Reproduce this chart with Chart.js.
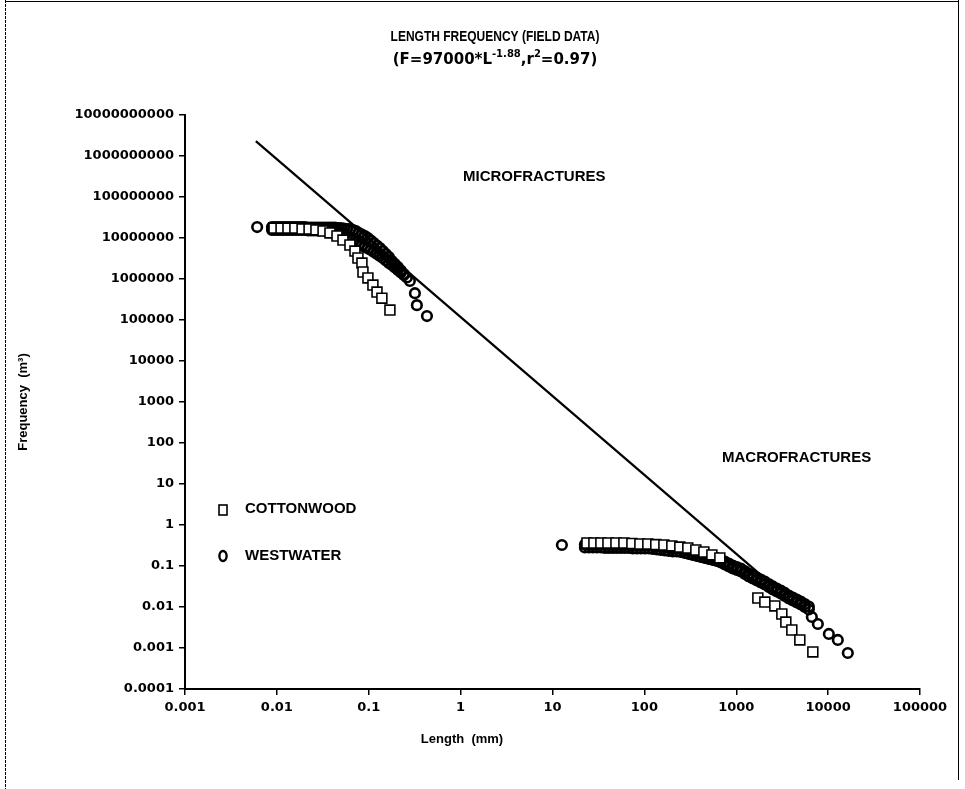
<!DOCTYPE html>
<html>
<head>
<meta charset="utf-8">
<script src="https://cdn.jsdelivr.net/npm/chart.js@4.4.1/dist/chart.umd.min.js"></script>
<style>
  html, body { margin: 0; padding: 0; background: #fff; }
  #wrap { width: 965px; height: 789px; position: relative; }
</style>
</head>
<body>
<div id="wrap"><canvas id="chart" width="965" height="789"></canvas></div>
<script>
// axis ticks (log scales, one per decade)
var xTicks = [0.001, 0.01, 0.1, 1, 10, 100, 1000, 10000, 100000];
var yTicks = [0.0001, 0.001, 0.01, 0.1, 1, 10, 100, 1000, 10000, 100000,
              1000000, 10000000, 100000000, 1000000000, 10000000000];

// power law fit, end points
var fitLine = [[0.0059, 2.3e9], [2300, 0.04]];

// [length (mm), frequency] pairs
var cottonwoodMicro = [
    [0.0093, 1.75e7], [0.0111, 1.75e7], [0.0132, 1.75e7], [0.0157, 1.75e7], [0.0188, 1.66e7],
    [0.0224, 1.66e7], [0.0266, 1.57e7], [0.0318, 1.48e7], [0.0378, 1.33e7], [0.0451, 1.12e7],
    [0.0524, 8.9e6], [0.0624, 6.75e6], [0.0708, 4.8e6], [0.0763, 3.25e6], [0.0843, 2.45e6],
    [0.0865, 1.48e6], [0.098, 1.06e6], [0.111, 7.1e5], [0.123, 4.8e5], [0.139, 3.4e5], [0.17, 1.75e5]
];

// westwater micro: the dense band is read as an upper and a lower edge row
var westwaterMicroUpper = [
    [0.0061, 1.85e7],
    [0.00885, 1.855e7], [0.00954, 1.855e7], [0.01029, 1.855e7], [0.01109, 1.855e7], [0.01195, 1.855e7],
    [0.01289, 1.855e7], [0.01389, 1.855e7], [0.01497, 1.855e7], [0.01614, 1.855e7], [0.0174, 1.855e7],
    [0.01876, 1.855e7], [0.02022, 1.855e7], [0.0218, 1.804e7], [0.0235, 1.804e7], [0.02533, 1.804e7],
    [0.02731, 1.804e7], [0.02944, 1.804e7], [0.03174, 1.804e7], [0.03421, 1.804e7], [0.03688, 1.804e7],
    [0.03976, 1.804e7], [0.04286, 1.804e7], [0.0462, 1.753e7], [0.0498, 1.753e7], [0.0537, 1.705e7],
    [0.0579, 1.658e7], [0.0624, 1.658e7], [0.0673, 1.567e7], [0.0725, 1.482e7], [0.0782, 1.324e7],
    [0.0843, 1.217e7], [0.0909, 1.119e7], [0.098, 1.0e7], [0.1056, 8.69e6], [0.1138, 7.55e6],
    [0.1227, 6.56e6], [0.1323, 5.7e6], [0.1426, 4.82e6], [0.1537, 4.07e6], [0.1657, 3.44e6],
    [0.1786, 2.75e6], [0.1926, 2.32e6], [0.2076, 1.96e6], [0.2238, 1.61e6], [0.2412, 1.32e6],
    [0.26, 1.09e6], [0.2803, 8.94e5],
    [0.318, 4.5e5], [0.334, 2.3e5], [0.43, 1.25e5]
];
var westwaterMicroLower = [
    [0.00885, 1.567e7], [0.00954, 1.567e7], [0.01029, 1.567e7], [0.01109, 1.567e7], [0.01195, 1.567e7],
    [0.01289, 1.567e7], [0.01389, 1.567e7], [0.01497, 1.567e7], [0.01614, 1.567e7], [0.0174, 1.567e7],
    [0.01876, 1.567e7], [0.02022, 1.567e7], [0.0218, 1.524e7], [0.0235, 1.524e7], [0.02533, 1.524e7],
    [0.02731, 1.524e7], [0.02944, 1.524e7], [0.03174, 1.524e7], [0.03421, 1.524e7], [0.03688, 1.524e7],
    [0.03976, 1.524e7], [0.04286, 1.524e7], [0.0462, 1.401e7], [0.0498, 1.324e7], [0.0537, 1.252e7],
    [0.0579, 1.119e7], [0.0624, 1.0e7], [0.0673, 8.94e6], [0.0725, 7.99e6], [0.0782, 7.14e6],
    [0.0843, 6.56e6], [0.0909, 6.03e6], [0.098, 5.55e6], [0.1056, 5.1e6], [0.1138, 4.56e6],
    [0.1227, 4.07e6], [0.1323, 3.64e6], [0.1426, 3.25e6], [0.1537, 2.83e6], [0.1657, 2.46e6],
    [0.1786, 2.2e6], [0.1926, 1.91e6], [0.2076, 1.66e6], [0.2238, 1.44e6], [0.2412, 1.25e6]
];

var cottonwoodMacro = [
    [23.7, 0.364], [28.2, 0.364], [33.6, 0.364], [40.1, 0.364], [49, 0.364], [59.8, 0.364],
    [73.1, 0.354], [89.3, 0.344], [109, 0.344], [133, 0.334], [163, 0.325], [199, 0.308],
    [243, 0.29], [297, 0.275], [363, 0.2455], [444, 0.2195], [543, 0.186], [663, 0.157],
    [1718, 0.0166], [2047, 0.0132], [2630, 0.0106], [3135, 0.00675], [3465, 0.0043],
    [4027, 0.00275], [4920, 0.00157], [6816, 0.0008]
];

var westwaterMacroUpper = [
    [12.65, 0.325],
    [22.52, 0.3346], [24.89, 0.3346], [27.52, 0.3346], [30.42, 0.3346], [33.62, 0.3346],
    [37.17, 0.3253], [41.09, 0.3253], [45.42, 0.3253], [50.2, 0.3253], [55.5, 0.3253],
    [61.35, 0.3253], [67.81, 0.3253], [74.96, 0.3162], [82.86, 0.3162], [91.6, 0.3162],
    [101.2, 0.3162], [111.9, 0.3162], [123.7, 0.3075], [136.8, 0.299], [151.2, 0.2907],
    [167.1, 0.2827], [184.7, 0.2748], [204.2, 0.2672], [225.7, 0.2672], [249.5, 0.2598],
    [275.8, 0.2457], [304.9, 0.2323], [337, 0.2196], [372.6, 0.2076], [411.8, 0.1963],
    [455.2, 0.1855], [503.2, 0.1754], [556.3, 0.1658], [614.9, 0.1568], [679.7, 0.1441],
    [751.4, 0.1287], [830.6, 0.1151], [918.1, 0.1029], [1015, 0.0945], [1122, 0.0869],
    [1240, 0.0755], [1371, 0.0656], [1515, 0.0586], [1675, 0.0524], [1852, 0.0469],
    [2047, 0.0419], [2263, 0.0363], [2501, 0.0317], [2765, 0.0283], [3056, 0.0252],
    [3379, 0.022], [3735, 0.019], [4128, 0.01705], [4564, 0.01524], [5045, 0.01362],
    [5576, 0.01184], [6164, 0.01028],
    [6650, 0.0057], [7730, 0.00385], [10180, 0.0022], [12750, 0.00157], [16380, 0.000755]
];
var westwaterMacroLower = [
    [22.52, 0.2826], [24.89, 0.2826], [27.52, 0.2826], [30.42, 0.2826], [33.62, 0.2826],
    [37.17, 0.2748], [41.09, 0.2748], [45.42, 0.2748], [50.2, 0.2748], [55.5, 0.2748],
    [61.35, 0.2748], [67.81, 0.2748], [74.96, 0.2671], [82.86, 0.2671], [91.6, 0.2671],
    [101.2, 0.2671], [111.9, 0.2671], [123.7, 0.2597], [136.8, 0.2526], [151.2, 0.2456],
    [167.1, 0.2388], [184.7, 0.2321], [204.2, 0.2257], [225.7, 0.2257], [249.5, 0.2195],
    [275.8, 0.2075], [304.9, 0.1962], [337, 0.1855], [372.6, 0.1753], [411.8, 0.1658],
    [455.2, 0.1567], [503.2, 0.1481], [556.3, 0.1401], [614.9, 0.1324], [679.7, 0.1217],
    [751.4, 0.1087], [830.6, 0.0972], [918.1, 0.0869], [1015, 0.0799], [1122, 0.0734],
    [1240, 0.0638], [1371, 0.0554], [1515, 0.0495], [1675, 0.0443], [1852, 0.0396],
    [2047, 0.0354], [2263, 0.0307], [2501, 0.0267], [2765, 0.0239], [3056, 0.0213],
    [3379, 0.0186], [3735, 0.0161], [4128, 0.0144], [4564, 0.01288], [5045, 0.01151],
    [5576, 0.01], [6164, 0.00868]
];

function toPoints(list) {
    return list.map(function (p) { return {x: p[0], y: p[1]}; });
}

function fmtTick(v) {
    return v >= 1 ? String(Math.round(v)) : String(v);
}

var TXT = 'bold 15px "Liberation Sans"';

// titles, notes, legend and the scanned frame are drawn by hand
var decor = {
    id: 'decor',
    afterDraw: function (chart) {
        var ctx = chart.ctx;
        ctx.save();
        ctx.fillStyle = '#000';
        ctx.strokeStyle = '#000';

        // frame
        ctx.lineWidth = 1;
        ctx.setLineDash([3, 1]);
        ctx.beginPath();
        ctx.moveTo(5.5, 0); ctx.lineTo(5.5, 789);
        ctx.stroke();
        ctx.setLineDash([]);
        ctx.beginPath();
        ctx.moveTo(5, 1.5); ctx.lineTo(959, 1.5);
        ctx.moveTo(958.5, 0); ctx.lineTo(958.5, 780);
        ctx.stroke();

        ctx.textBaseline = 'middle';

        // title, first line is a condensed face
        ctx.save();
        ctx.font = 'bold 15px "Liberation Sans"';
        ctx.textAlign = 'center';
        ctx.translate(495, 37);
        ctx.scale(0.8, 1);
        ctx.fillText('LENGTH FREQUENCY (FIELD DATA)', 0, 0);
        ctx.restore();

        var parts = [
            {t: '(F=97000*L', sup: false},
            {t: '-1.88', sup: true},
            {t: ',r', sup: false},
            {t: '2', sup: true},
            {t: '=0.97)', sup: false}
        ];
        var mainFont = 'bold 15px "DejaVu Sans"';
        var supFont = 'bold 10px "DejaVu Sans"';
        var total = 0;
        parts.forEach(function (p) {
            ctx.font = p.sup ? supFont : mainFont;
            p.w = ctx.measureText(p.t).width;
            total += p.w;
        });
        var x = 495 - total / 2;
        ctx.textAlign = 'left';
        parts.forEach(function (p) {
            ctx.font = p.sup ? supFont : mainFont;
            ctx.fillText(p.t, x, p.sup ? 54 : 60);
            x += p.w;
        });

        // notes
        ctx.font = TXT;
        ctx.textAlign = 'left';
        ctx.fillText('MICROFRACTURES', 463, 177);
        ctx.fillText('MACROFRACTURES', 722, 458);

        // x axis title
        ctx.font = 'bold 13px "Liberation Sans"';
        ctx.textAlign = 'center';
        ctx.fillText('Length  (mm)', 462, 739);

        // legend
        ctx.font = TXT;
        ctx.textAlign = 'left';
        ctx.fillText('COTTONWOOD', 245, 509);
        ctx.fillText('WESTWATER', 245, 556);
        ctx.lineWidth = 1.6;
        ctx.strokeRect(219, 505, 8, 10);
        ctx.lineWidth = 2.4;
        ctx.beginPath();
        ctx.ellipse(223, 556, 3.6, 5, 0, 0, Math.PI * 2);
        ctx.stroke();
        ctx.restore();
    }
};

var circleStyle = {
    pointStyle: 'circle',
    pointRadius: 4.8,
    borderColor: '#000',
    backgroundColor: 'rgba(0,0,0,0)',
    borderWidth: 2.6,
    order: 2
};

new Chart(document.getElementById('chart'), {
    type: 'scatter',
    data: {
        datasets: [
            {
                label: 'COTTONWOOD',
                data: toPoints(cottonwoodMicro.concat(cottonwoodMacro)),
                pointStyle: 'rect',
                pointRadius: 7,
                borderColor: '#000',
                backgroundColor: '#fff',
                borderWidth: 1.6,
                order: 1
            },
            Object.assign({ label: 'WESTWATER',
                data: toPoints(westwaterMicroUpper.concat(westwaterMacroUpper)) }, circleStyle),
            Object.assign({ label: 'WESTWATER lower edge',
                data: toPoints(westwaterMicroLower.concat(westwaterMacroLower)) }, circleStyle),
            {
                label: 'fit',
                data: toPoints(fitLine),
                showLine: true,
                pointRadius: 0,
                borderColor: '#000',
                borderWidth: 2.2,
                order: 3
            }
        ]
    },
    options: {
        responsive: false,
        animation: false,
        devicePixelRatio: 1,
        layout: { padding: { left: 12, right: 45, top: 115, bottom: 40 } },
        plugins: {
            legend: { display: false },
            tooltip: { enabled: false }
        },
        scales: {
            x: {
                type: 'logarithmic',
                min: 0.001,
                max: 100000,
                afterBuildTicks: function (s) { s.ticks = xTicks.map(function (v) { return {value: v}; }); },
                afterFit: function (s) { s.height = 60; },
                grid: { drawOnChartArea: false, drawTicks: true, tickLength: 6, color: '#000', lineWidth: 1.5 },
                border: { display: true, color: '#000', width: 2 },
                ticks: {
                    color: '#000',
                    font: { family: 'DejaVu Sans', weight: 'bold', size: 13 },
                    padding: 5,
                    maxRotation: 0,
                    autoSkip: false,
                    callback: fmtTick
                }
            },
            y: {
                type: 'logarithmic',
                min: 0.0001,
                max: 10000000000,
                afterBuildTicks: function (s) { s.ticks = yTicks.map(function (v) { return {value: v}; }); },
                afterFit: function (s) { s.width = 173; },
                grid: { drawOnChartArea: false, drawTicks: true, tickLength: 6, color: '#000', lineWidth: 1.5 },
                border: { display: true, color: '#000', width: 2 },
                title: {
                    display: true,
                    text: 'Frequency  (m³)',
                    color: '#000',
                    font: { family: 'Liberation Sans', weight: 'bold', size: 13 },
                    padding: { top: 4, bottom: 4 }
                },
                ticks: {
                    color: '#000',
                    font: { family: 'DejaVu Sans', weight: 'bold', size: 13 },
                    padding: 5,
                    autoSkip: false,
                    callback: fmtTick
                }
            }
        }
    },
    plugins: [decor]
});
</script>
</body>
</html>
